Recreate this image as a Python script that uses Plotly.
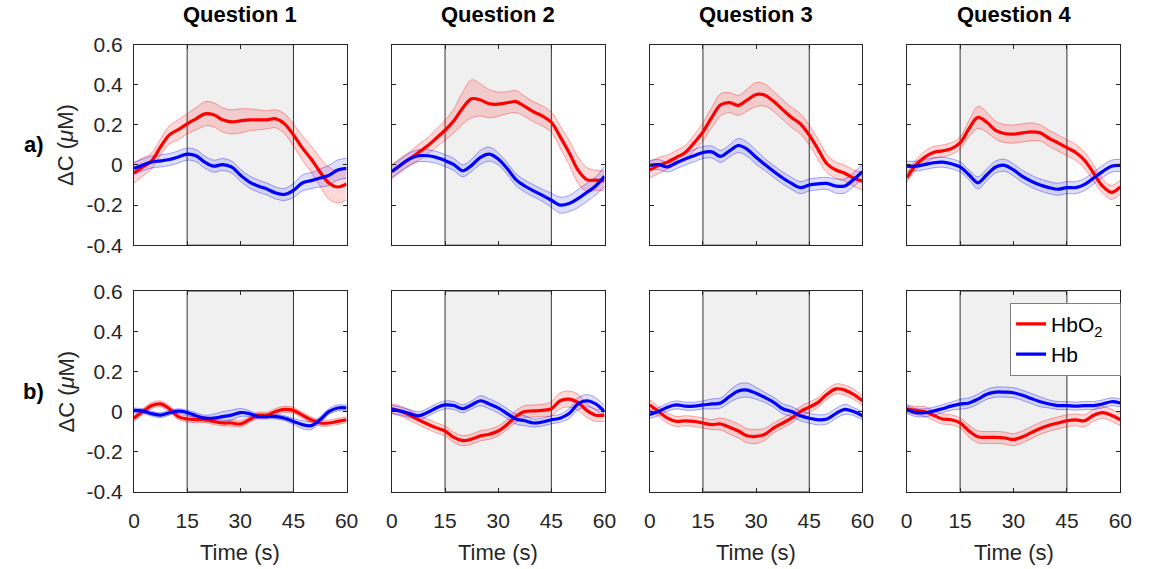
import plotly.graph_objects as go

# Time base (s) shared by every panel
time_s = [0, 2.5, 5, 7.5, 10, 12.5, 15, 17.5, 20, 22.5, 25, 27.5, 30,
          32.5, 35, 37.5, 40, 42.5, 45, 47.5, 50, 52.5, 55, 57.5, 60]

questions = ["Question 1", "Question 2", "Question 3", "Question 4"]
row_labels = ["a)", "b)"]
task_window = [15, 45]

# ---- Row a) : mean concentration change (uM) and standard error ----
a_hbo2 = [
    [-0.04, -0.01, 0.02, 0.09, 0.15, 0.176, 0.205, 0.23, 0.255, 0.25, 0.225, 0.215, 0.22,
     0.225, 0.225, 0.225, 0.23, 0.205, 0.15, 0.085, 0.03, -0.035, -0.09, -0.11, -0.095],
    [-0.033, 0.0, 0.03, 0.062, 0.094, 0.133, 0.173, 0.22, 0.284, 0.33, 0.324, 0.305, 0.303,
     0.31, 0.316, 0.292, 0.265, 0.244, 0.213, 0.14, 0.062, -0.025, -0.073, -0.076, -0.08],
    [-0.025, -0.002, 0.014, 0.038, 0.062, 0.11, 0.165, 0.237, 0.3, 0.311, 0.297, 0.324, 0.351,
     0.348, 0.316, 0.276, 0.237, 0.205, 0.149, 0.078, 0.006, -0.025, -0.041, -0.065, -0.081],
    [-0.065, -0.002, 0.038, 0.062, 0.07, 0.081, 0.11, 0.181, 0.237, 0.213, 0.173, 0.157, 0.154,
     0.16, 0.165, 0.16, 0.133, 0.11, 0.086, 0.062, 0.022, -0.041, -0.105, -0.137, -0.11],
]
a_hbo2_se = [
    [0.05, 0.045, 0.04, 0.04, 0.045, 0.05, 0.05, 0.055, 0.06, 0.06, 0.06, 0.06, 0.06,
     0.055, 0.05, 0.045, 0.045, 0.05, 0.055, 0.06, 0.065, 0.07, 0.08, 0.08, 0.08],
    [0.035, 0.035, 0.035, 0.04, 0.04, 0.045, 0.05, 0.06, 0.08, 0.095, 0.08, 0.07, 0.06,
     0.055, 0.055, 0.05, 0.05, 0.05, 0.05, 0.055, 0.06, 0.065, 0.06, 0.05, 0.05],
    [0.04, 0.04, 0.035, 0.035, 0.035, 0.04, 0.045, 0.05, 0.055, 0.05, 0.05, 0.055, 0.06,
     0.055, 0.05, 0.05, 0.05, 0.05, 0.05, 0.05, 0.045, 0.04, 0.04, 0.04, 0.045],
    [0.02, 0.025, 0.03, 0.03, 0.03, 0.03, 0.03, 0.04, 0.055, 0.05, 0.045, 0.045, 0.045,
     0.045, 0.045, 0.04, 0.04, 0.04, 0.04, 0.04, 0.04, 0.04, 0.035, 0.035, 0.035],
]
a_hb = [
    [-0.017, 0.0, 0.015, 0.02, 0.027, 0.04, 0.054, 0.046, 0.014, -0.006, 0.002, -0.01, -0.05,
     -0.084, -0.105, -0.12, -0.14, -0.147, -0.127, -0.09, -0.078, -0.065, -0.052, -0.025, -0.017],
    [-0.033, 0.0, 0.03, 0.046, 0.046, 0.038, 0.022, 0.002, -0.029, -0.002, 0.038, 0.054, 0.03,
     -0.017, -0.073, -0.105, -0.129, -0.152, -0.176, -0.2, -0.192, -0.168, -0.137, -0.105, -0.057],
    [-0.002, 0.002, -0.01, 0.011, 0.03, 0.046, 0.062, 0.065, 0.043, 0.07, 0.097, 0.078, 0.038,
     0.002, -0.033, -0.065, -0.092, -0.113, -0.1, -0.094, -0.092, -0.105, -0.105, -0.073, -0.033],
    [-0.006, -0.006, 0.002, 0.011, 0.014, 0.006, -0.01, -0.049, -0.089, -0.049, -0.01, -0.002, -0.025,
     -0.057, -0.081, -0.1, -0.113, -0.121, -0.113, -0.113, -0.097, -0.065, -0.033, -0.006, -0.002],
]
a_hb_se = [
    [0.03, 0.03, 0.03, 0.03, 0.03, 0.03, 0.03, 0.03, 0.03, 0.03, 0.03, 0.03, 0.03,
     0.03, 0.03, 0.03, 0.03, 0.03, 0.035, 0.04, 0.04, 0.045, 0.05, 0.05, 0.05],
    [0.03, 0.03, 0.03, 0.03, 0.03, 0.03, 0.03, 0.03, 0.03, 0.03, 0.035, 0.035, 0.03,
     0.03, 0.03, 0.03, 0.03, 0.03, 0.035, 0.04, 0.04, 0.045, 0.045, 0.045, 0.05],
    [0.025, 0.025, 0.025, 0.03, 0.03, 0.03, 0.03, 0.03, 0.03, 0.03, 0.035, 0.035, 0.035,
     0.03, 0.03, 0.03, 0.03, 0.03, 0.03, 0.03, 0.03, 0.035, 0.035, 0.035, 0.035],
    [0.025, 0.025, 0.025, 0.025, 0.025, 0.025, 0.025, 0.025, 0.03, 0.03, 0.03, 0.03, 0.03,
     0.03, 0.03, 0.03, 0.03, 0.03, 0.03, 0.03, 0.03, 0.03, 0.03, 0.03, 0.03],
]

# ---- Row b) ----
b_hbo2 = [
    [-0.033, 0.0, 0.03, 0.038, 0.014, -0.025, -0.037, -0.04, -0.04, -0.049, -0.057, -0.057, -0.062,
     -0.041, -0.018, -0.018, 0.0, 0.011, 0.006, -0.018, -0.041, -0.057, -0.057, -0.049, -0.041],
    [0.014, 0.002, -0.018, -0.041, -0.062, -0.081, -0.097, -0.129, -0.145, -0.137, -0.121, -0.113, -0.097,
     -0.065, -0.025, 0.0, 0.003, 0.006, 0.014, 0.054, 0.062, 0.046, 0.006, -0.018, -0.018],
    [0.033, 0.0, -0.033, -0.049, -0.046, -0.049, -0.057, -0.065, -0.062, -0.078, -0.097, -0.121, -0.124,
     -0.113, -0.081, -0.057, -0.033, 0.0, 0.022, 0.046, 0.086, 0.113, 0.107, 0.086, 0.054],
    [0.014, 0.006, 0.0, -0.018, -0.037, -0.041, -0.057, -0.097, -0.126, -0.129, -0.129, -0.132, -0.14,
     -0.126, -0.105, -0.084, -0.068, -0.057, -0.046, -0.041, -0.046, -0.018, -0.005, -0.018, -0.041],
]
b_hbo2_se = [
    [0.015, 0.015, 0.015, 0.015, 0.015, 0.015, 0.015, 0.015, 0.015, 0.015, 0.015, 0.015, 0.015,
     0.015, 0.015, 0.015, 0.015, 0.015, 0.015, 0.015, 0.015, 0.015, 0.015, 0.015, 0.015],
    [0.025, 0.025, 0.025, 0.025, 0.025, 0.025, 0.025, 0.025, 0.025, 0.025, 0.025, 0.025, 0.025,
     0.025, 0.03, 0.03, 0.03, 0.03, 0.035, 0.04, 0.04, 0.04, 0.035, 0.03, 0.03],
    [0.025, 0.025, 0.025, 0.025, 0.025, 0.025, 0.025, 0.025, 0.03, 0.035, 0.035, 0.035, 0.035,
     0.03, 0.025, 0.025, 0.025, 0.025, 0.025, 0.025, 0.025, 0.025, 0.025, 0.025, 0.025],
    [0.02, 0.02, 0.025, 0.025, 0.025, 0.025, 0.025, 0.03, 0.03, 0.03, 0.03, 0.03, 0.03,
     0.03, 0.03, 0.03, 0.03, 0.03, 0.03, 0.03, 0.03, 0.03, 0.03, 0.03, 0.03],
]
b_hb = [
    [0.006, 0.002, -0.01, -0.018, -0.006, 0.002, -0.005, -0.021, -0.033, -0.033, -0.025, -0.018, -0.005,
     -0.01, -0.025, -0.025, -0.025, -0.033, -0.049, -0.065, -0.07, -0.041, 0.0, 0.018, 0.018],
    [0.011, 0.002, -0.01, -0.021, -0.005, 0.018, 0.033, 0.03, 0.014, 0.033, 0.054, 0.038, 0.018,
     -0.01, -0.037, -0.046, -0.057, -0.052, -0.041, -0.033, -0.01, 0.038, 0.054, 0.038, 0.0],
    [-0.014, 0.0, 0.022, 0.033, 0.027, 0.027, 0.033, 0.038, 0.043, 0.075, 0.102, 0.107, 0.091,
     0.07, 0.046, 0.014, 0.0, -0.021, -0.033, -0.041, -0.037, -0.01, 0.011, 0.0, -0.021],
    [0.011, -0.005, -0.006, 0.002, 0.014, 0.027, 0.037, 0.043, 0.062, 0.086, 0.097, 0.097, 0.094,
     0.081, 0.065, 0.049, 0.038, 0.03, 0.03, 0.027, 0.03, 0.03, 0.038, 0.049, 0.043],
]
b_hb_se = [
    [0.012, 0.012, 0.012, 0.012, 0.012, 0.012, 0.012, 0.015, 0.015, 0.02, 0.025, 0.025, 0.02,
     0.015, 0.012, 0.012, 0.012, 0.012, 0.015, 0.02, 0.02, 0.015, 0.015, 0.015, 0.015],
    [0.02, 0.02, 0.02, 0.02, 0.02, 0.02, 0.02, 0.02, 0.02, 0.02, 0.025, 0.025, 0.025,
     0.025, 0.025, 0.025, 0.02, 0.02, 0.02, 0.02, 0.025, 0.03, 0.03, 0.03, 0.03],
    [0.02, 0.02, 0.02, 0.02, 0.02, 0.02, 0.02, 0.025, 0.025, 0.03, 0.035, 0.035, 0.03,
     0.025, 0.025, 0.025, 0.025, 0.025, 0.025, 0.025, 0.025, 0.025, 0.025, 0.02, 0.02],
    [0.02, 0.02, 0.02, 0.02, 0.02, 0.02, 0.025, 0.025, 0.025, 0.025, 0.025, 0.025, 0.025,
     0.025, 0.025, 0.025, 0.02, 0.02, 0.02, 0.02, 0.02, 0.02, 0.02, 0.02, 0.02],
]

x_ticks = [0, 15, 30, 45, 60]
y_ticks = [-0.4, -0.2, 0, 0.2, 0.4, 0.6]
y_tick_text = ["-0.4", "-0.2", "0", "0.2", "0.4", "0.6"]

# ---- layout geometry (pixels) ----
W, H = 1152, 569
col_px = [(130, 346), (392, 608), (654, 870), (915, 1132)]
row_px = [(34, 243), (291, 500)]

FONT = "Liberation Sans, Arial, sans-serif"
INK = "#262626"
TICK_SIZE = 21
LABEL_SIZE = 22

RED, BLUE = "#ff0000", "#0000ff"
RED_FILL, BLUE_FILL = "rgba(255,0,0,0.15)", "rgba(0,0,255,0.13)"
RED_EDGE, BLUE_EDGE = "rgba(255,0,0,0.35)", "rgba(0,0,255,0.35)"

fig = go.Figure()
layout = dict(
    width=W, height=H, margin=dict(l=0, r=0, t=0, b=0),
    paper_bgcolor="white", plot_bgcolor="white",
    showlegend=True,
    font=dict(family=FONT, color=INK, size=TICK_SIZE),
)
shapes, annotations = [], []

rows = [(a_hbo2, a_hbo2_se, a_hb, a_hb_se), (b_hbo2, b_hbo2_se, b_hb, b_hb_se)]

for r, (hbo2, hbo2_se, hb, hb_se) in enumerate(rows):
    for c in range(4):
        idx = r * 4 + c + 1
        sfx = "" if idx == 1 else str(idx)
        xa, ya = "x" + sfx, "y" + sfx
        x0, x1 = col_px[c]
        y0, y1 = row_px[r]
        layout["xaxis" + sfx] = dict(
            domain=[x0 / W, x1 / W], range=[0, 60], anchor=ya,
            tickvals=x_ticks, showticklabels=(r == 1),
            ticks="inside", ticklen=4, tickcolor=INK, tickwidth=1,
            showline=True, linecolor=INK, linewidth=1, mirror="ticks",
            showgrid=False, zeroline=False, fixedrange=True,
            ticklabelstandoff=10,
            tickfont=dict(size=TICK_SIZE, color=INK, family=FONT),
        )
        layout["yaxis" + sfx] = dict(
            domain=[1 - y1 / H, 1 - y0 / H], range=[-0.4, 0.6], anchor=xa,
            tickvals=y_ticks, ticktext=y_tick_text, showticklabels=(c == 0),
            ticks="inside", ticklen=4, tickcolor=INK, tickwidth=1,
            showline=True, linecolor=INK, linewidth=1, mirror="ticks",
            showgrid=False, zeroline=False, fixedrange=True,
            ticklabelstandoff=6,
            tickfont=dict(size=TICK_SIZE, color=INK, family=FONT),
        )
        # shaded task period
        shapes.append(dict(
            type="rect", xref=xa, yref=ya, x0=task_window[0], x1=task_window[1],
            y0=-0.4, y1=0.6, fillcolor="#f0f0f0",
            line=dict(color="#333333", width=1), layer="below",
        ))

        for mean, se, fill, edge in (
            (hbo2[c], hbo2_se[c], RED_FILL, RED_EDGE),
            (hb[c], hb_se[c], BLUE_FILL, BLUE_EDGE),
        ):
            upper = [m + s for m, s in zip(mean, se)]
            lower = [m - s for m, s in zip(mean, se)]
            fig.add_trace(go.Scatter(
                x=time_s, y=upper, xaxis=xa, yaxis=ya, mode="lines",
                line=dict(color=edge, width=1, shape="spline", smoothing=1.0),
                showlegend=False, hoverinfo="skip",
            ))
            fig.add_trace(go.Scatter(
                x=time_s, y=lower, xaxis=xa, yaxis=ya, mode="lines",
                line=dict(color=edge, width=1, shape="spline", smoothing=1.0),
                fill="tonexty", fillcolor=fill,
                showlegend=False, hoverinfo="skip",
            ))
        for mean, col, name in ((hbo2[c], RED, "HbO<sub>2</sub>\u00a0\u00a0"), (hb[c], BLUE, "Hb")):
            fig.add_trace(go.Scatter(
                x=time_s, y=mean, xaxis=xa, yaxis=ya, mode="lines", name=name,
                line=dict(color=col, width=3.2, shape="spline", smoothing=1.0),
                showlegend=(idx == 8),
            ))

        if r == 0:
            annotations.append(dict(
                text="<b>%s</b>" % questions[c], xref="paper", yref="paper",
                x=(x0 + x1) / 2 / W, y=1 - 3 / H, showarrow=False,
                font=dict(size=LABEL_SIZE, color="black", family=FONT),
                xanchor="center", yanchor="middle",
            ))
        else:
            annotations.append(dict(
                text="Time (s)", xref="paper", yref="paper",
                x=(x0 + x1) / 2 / W, y=1 - 563 / H, showarrow=False,
                font=dict(size=LABEL_SIZE, color=INK, family=FONT),
                xanchor="center", yanchor="middle",
            ))
    yc = (row_px[r][0] + row_px[r][1]) / 2
    annotations.append(dict(
        text="ΔC (<i>μ</i>M)", xref="paper", yref="paper",
        x=61 / W, y=1 - yc / H, showarrow=False, textangle=-90,
        font=dict(size=LABEL_SIZE, color=INK, family=FONT),
        xanchor="center", yanchor="middle",
    ))
    annotations.append(dict(
        text="<b>%s</b>" % row_labels[r], xref="paper", yref="paper",
        x=28 / W, y=1 - yc / H, showarrow=False,
        font=dict(size=LABEL_SIZE, color="black", family=FONT),
        xanchor="center", yanchor="middle",
    ))

layout["shapes"] = shapes
layout["annotations"] = annotations
layout["legend"] = dict(
    x=1020 / W, y=1 - 303 / H, xanchor="left", yanchor="top",
    bgcolor="white", bordercolor="#7f7f7f", borderwidth=1,
    font=dict(size=TICK_SIZE, color="black", family=FONT),
    traceorder="normal", itemwidth=30, tracegroupgap=0,
)
fig.update_layout(**layout)
fig.write_html("out.html")
